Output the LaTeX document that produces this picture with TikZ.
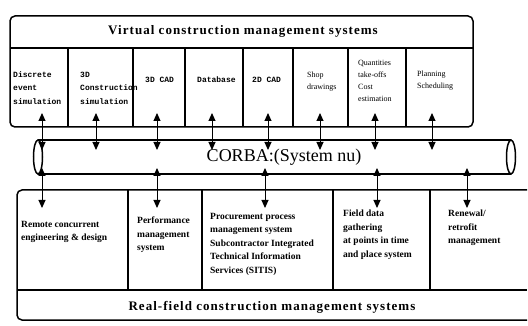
\documentclass[tikz,border=0pt]{standalone}
\usepackage{fontspec}
\setmainfont{Liberation Serif}
\newfontfamily\courierfont{Liberation Mono}
\usetikzlibrary{arrows.meta}

\begin{document}
\begin{tikzpicture}[x=1pt,y=-1pt]
    % Define styles
    \tikzset{
        frame/.style={draw, line width=1.5pt, rounded corners=5pt},
        divider/.style={draw, line width=1.2pt},
        heading/.style={font=\fontsize{13}{15}\selectfont\bfseries\addfontfeatures{LetterSpace=8}},
        vmono/.style={align=left, anchor=west, inner sep=0pt, font=\courierfont\bfseries\fontsize{8}{13.5}\selectfont},
        vcell/.style={align=left, anchor=west, inner sep=0pt, font=\fontsize{8}{12}\selectfont},
        rcell/.style={align=left, anchor=north west, inner sep=0pt, font=\fontsize{9.5}{13.5}\selectfont\bfseries},
        pipetext/.style={font=\fontsize{18}{20}\selectfont},
        link/.style={{Triangle[length=8pt,width=7pt]}-{Triangle[length=8pt,width=7pt]}, line width=1pt}
    }
    \useasboundingbox (0,0) rectangle (528,326);

    % Virtual systems box
    \draw[frame] (10,16) rectangle (473,127);
    \draw[divider] (10,48) -- (473,48);
    \foreach \x in {68,133,185,243,293,348,406}
        \draw[divider] (\x,48) -- (\x,127);
    \node[heading] (vtitle) at (243,31) {Virtual construction management systems};
    \node[vmono] (discrete) at (13,88) {Discrete\\event\\simulation};
    \node[vmono] (construct) at (80,88) {3D\\Construction\\simulation};
    \node[vmono] (cad3d) at (145,80) {3D CAD};
    \node[vmono] (database) at (197,80) {Database};
    \node[vmono] (cad2d) at (252,80) {2D CAD};
    \node[vcell] (shop) at (307,82) {Shop\\drawings};
    \node[vcell] (quantities) at (358,81) {Quantities\\take-offs\\Cost\\estimation};
    \node[vcell] (planning) at (417,81) {Planning\\Scheduling};

    % CORBA pipe
    \draw[line width=1.5pt] (38,140) -- (511,140) (38,174) -- (511,174);
    \draw[line width=1.5pt, fill=white] (38,157) ellipse (4.5 and 17);
    \draw[line width=1.5pt, fill=white] (511,157) ellipse (4.5 and 17);
    \node[pipetext] (corba) at (284,157) {CORBA:(System nu)};

    % Real-field systems box
    \draw[frame] (527,190) -- (17,190) -- (17,320) -- (527,320);
    \draw[divider] (17,290) -- (527,290);
    \foreach \x in {128,202,333,430}
        \draw[divider] (\x,190) -- (\x,290);
    \node[heading] (rtitle) at (272,307) {Real-field construction management systems};
    \node[rcell] (remote) at (21,221) {Remote concurrent\\engineering \& design};
    \node[rcell] (performance) at (137,217) {Performance\\management\\system};
    \node[rcell] (procurement) at (210,213) {Procurement process\\management system\\Subcontractor Integrated\\Technical Information\\Services (SITIS)};
    \node[rcell] (fielddata) at (343,210) {Field data\\gathering\\at points in time\\and place system};
    \node[rcell] (renewal) at (448,210) {Renewal/\\retrofit\\management};

    % Arrows
    \foreach \x [count=\i] in {42,96,157,212,268,320,375,432} {
        \coordinate (vup\i) at (\x,113);
        \coordinate (vdn\i) at (\x,150);
        \draw[link] (vup\i) -- (vdn\i);
    }
    \foreach \x [count=\i] in {42,157,265,377,467} {
        \coordinate (rup\i) at (\x,168);
        \coordinate (rdn\i) at (\x,208);
        \draw[link] (rup\i) -- (rdn\i);
    }
\end{tikzpicture}
\end{document}
